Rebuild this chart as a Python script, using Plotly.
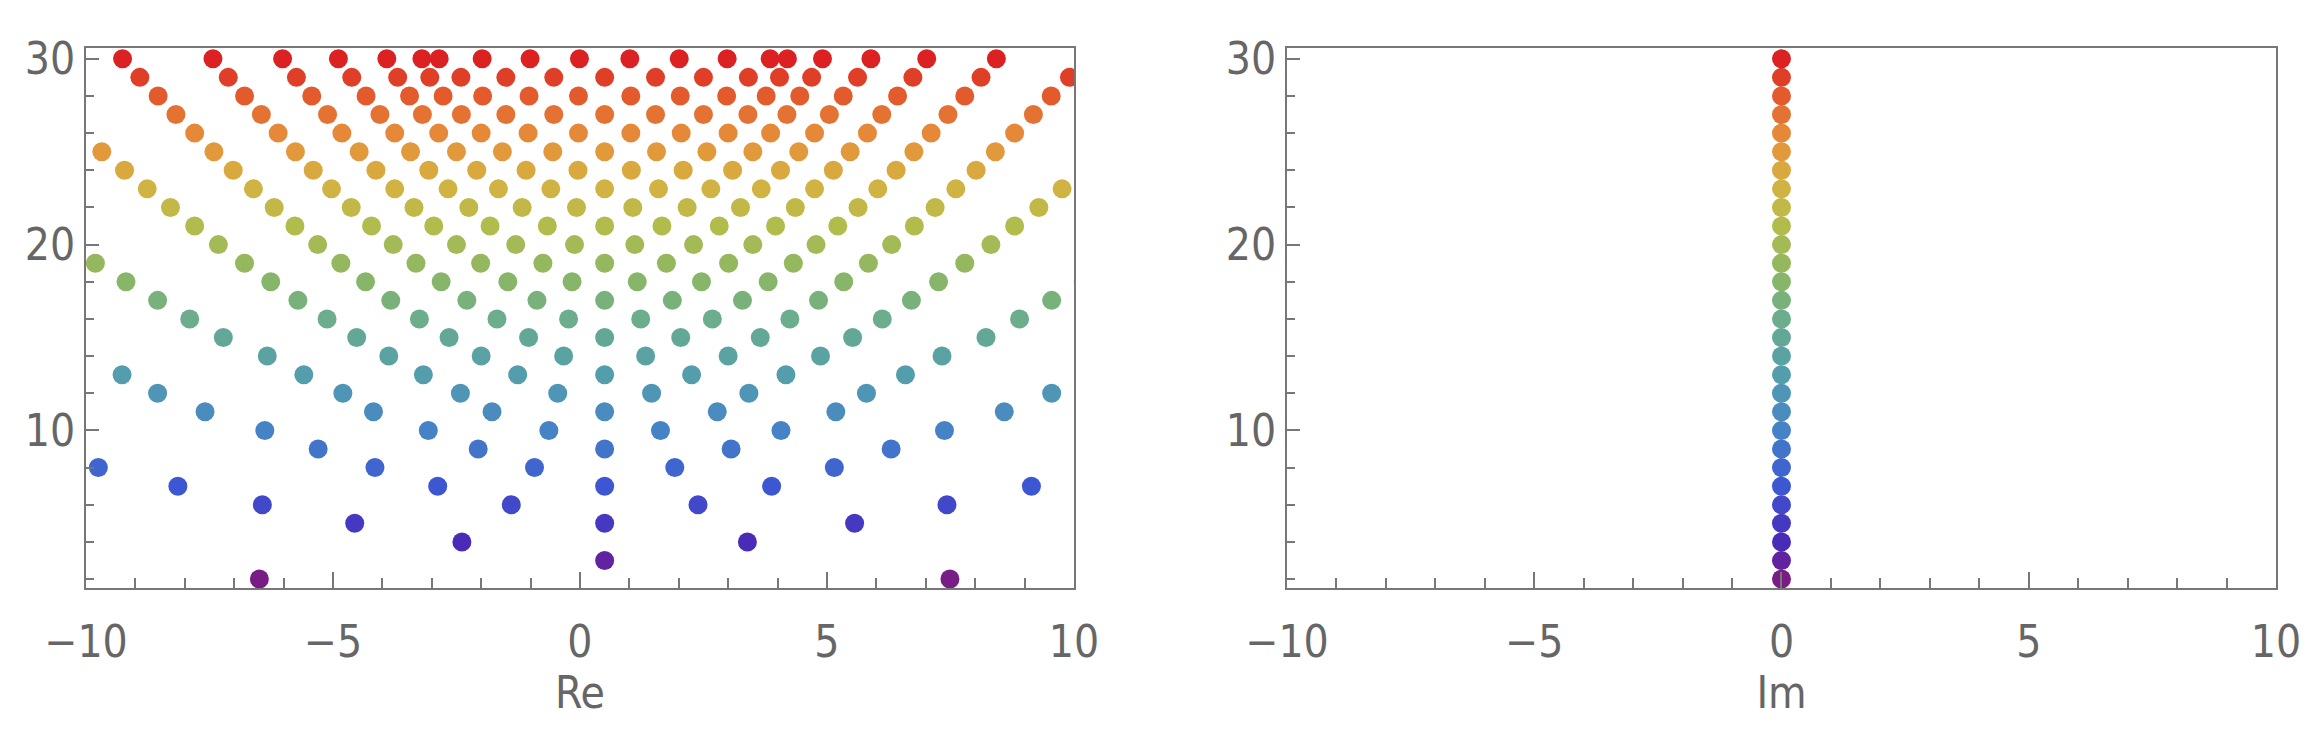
import plotly.graph_objects as go
from plotly.subplots import make_subplots

# Real parts of points, one list per imaginary-level row (Im value = row number)
re_02 = [-6.49, 7.49]
re_03 = [0.5]
re_04 = [-2.39, 3.39]
re_05 = [-4.56, 0.5, 5.56]
re_06 = [-6.43, -1.39, 2.39, 7.43]
re_07 = [-8.14, -2.88, 0.5, 3.88, 9.14]
re_08 = [-9.75, -4.15, -0.92, 1.92, 5.15, 10.75]
re_09 = [-5.30, -2.06, 0.5, 3.06, 6.30]
re_10 = [-6.38, -3.07, -0.63, 1.63, 4.07, 7.38]
re_11 = [-7.59, -4.18, -1.78, 0.5, 2.78, 5.18, 8.59]
re_12 = [-8.55, -4.80, -2.42, -0.45, 1.45, 3.42, 5.80, 9.55]
re_13 = [-9.27, -5.59, -3.17, -1.26, 0.5, 2.26, 4.17, 6.59, 10.27]
re_14 = [-6.33, -3.87, -2.00, -0.33, 1.33, 3.00, 4.87, 7.33]
re_15 = [-7.22, -4.52, -2.65, -1.04, 0.5, 2.04, 3.65, 5.52, 8.22]
re_16 = [-7.90, -5.12, -3.25, -1.68, -0.23, 1.23, 2.68, 4.25, 6.12, 8.90]
re_17 = [-8.55, -5.71, -3.83, -2.29, -0.87, 0.5, 1.87, 3.29, 4.83, 6.71, 9.55]
re_18 = [-9.19, -6.26, -4.34, -2.81, -1.46, -0.16, 1.16, 2.46, 3.81, 5.34, 7.26, 10.19]
re_19 = [-9.81, -6.79, -4.84, -3.32, -2.01, -0.75, 0.5, 1.75, 3.01, 4.32, 5.84, 7.79, 10.81]
re_20 = [-7.32, -5.31, -3.78, -2.50, -1.30, -0.11, 1.11, 2.30, 3.50, 4.78, 6.31, 8.32]
re_21 = [-7.80, -5.77, -4.22, -2.96, -1.82, -0.66, 0.5, 1.66, 2.82, 3.96, 5.22, 6.77, 8.80]
re_22 = [-8.29, -6.19, -4.63, -3.36, -2.25, -1.17, -0.07, 1.07, 2.17, 3.25, 4.36, 5.63, 7.19, 9.29]
re_23 = [-8.76, -6.61, -5.03, -3.75, -2.67, -1.65, -0.59, 0.5, 1.59, 2.65, 3.67, 4.75, 6.03, 7.61, 9.76]
re_24 = [-9.22, -7.02, -5.40, -4.13, -3.06, -2.09, -1.09, -0.04, 1.04, 2.09, 3.09, 4.06, 5.13, 6.40, 8.02, 10.22]
re_25 = [-9.68, -7.41, -5.76, -4.47, -3.43, -2.50, -1.57, -0.55, 0.5, 1.55, 2.57, 3.50, 4.43, 5.47, 6.76, 8.41, 10.68]
re_26 = [-7.80, -6.11, -4.82, -3.75, -2.86, -2.00, -1.05, -0.03, 1.03, 2.05, 3.00, 3.86, 4.75, 5.82, 7.11, 8.80]
re_27 = [-8.18, -6.45, -5.11, -4.05, -3.19, -2.40, -1.50, -0.53, 0.5, 1.53, 2.50, 3.40, 4.19, 5.05, 6.11, 7.45, 9.18]
re_28 = [-8.54, -6.79, -5.43, -4.33, -3.45, -2.77, -1.97, -1.03, -0.03, 1.03, 2.03, 2.97, 3.77, 4.45, 5.33, 6.43, 7.79, 9.54]
re_29 = [-8.91, -7.12, -5.74, -4.62, -3.69, -3.04, -2.41, -1.50, -0.53, 0.5, 1.53, 2.50, 3.41, 4.04, 4.69, 5.62, 6.74, 8.12, 9.91]
re_30 = [-9.26, -7.43, -6.02, -4.89, -3.91, -3.20, -2.85, -1.98, -1.01, -0.01, 1.01, 2.01, 2.98, 3.85, 4.20, 4.91, 5.89, 7.02, 8.43, 10.26]

rows = [re_02, re_03, re_04, re_05, re_06, re_07, re_08, re_09, re_10, re_11,
        re_12, re_13, re_14, re_15, re_16, re_17, re_18, re_19, re_20, re_21,
        re_22, re_23, re_24, re_25, re_26, re_27, re_28, re_29, re_30]
levels = list(range(2, 31))

# right panel: imaginary parts plotted at 0
im_x = [0] * len(levels)
im_y = levels

x_tickvals = [-10, -5, 0, 5, 10]
x_ticktext = ["\u221210", "\u22125", "0", "5", "10"]
y_tickvals = [10, 20, 30]

rainbow = [
    [0.0, "#781c86"], [0.07, "#4a2ab8"], [0.18, "#3d57d2"], [0.29, "#4585c6"],
    [0.40, "#559fab"], [0.50, "#6bad8c"], [0.58, "#8ab766"], [0.68, "#b2bc4c"],
    [0.76, "#d4b240"], [0.84, "#e5923a"], [0.92, "#e4622e"], [1.0, "#db2121"],
]

xs, ys = [], []
for lv, r in zip(levels, rows):
    xs += r
    ys += [lv] * len(r)

fig = make_subplots(rows=1, cols=2)

mk = dict(size=19, colorscale=rainbow, cmin=2, cmax=30, line=dict(width=0))
fig.add_trace(go.Scatter(x=xs, y=ys, mode="markers", marker={**mk, "color": ys}, showlegend=False), 1, 1)
fig.add_trace(go.Scatter(x=im_x, y=im_y, mode="markers", marker={**mk, "color": im_y}, showlegend=False), 1, 2)

axfont = dict(family="DejaVu Sans Condensed, Liberation Sans Narrow, Roboto Condensed, Roboto", size=44, color="#666666")
for c in (1, 2):
    fig.update_xaxes(range=[-10, 10], tickvals=x_tickvals, ticktext=x_ticktext,
                     ticks="inside", ticklen=16, tickwidth=2, tickcolor="#777", ticklabelstandoff=14,
                     minor=dict(dtick=1, ticks="inside", ticklen=10, tickwidth=2, tickcolor="#777"),
                     showline=True, linecolor="#777", linewidth=2, mirror=True, showgrid=False, zeroline=False,
                     tickfont=axfont, title_font=axfont, row=1, col=c)
    fig.update_yaxes(range=[1.52, 30.58], tickvals=y_tickvals,
                     ticks="inside", ticklen=13, tickwidth=2, tickcolor="#777",
                     minor=dict(tickvals=list(range(2, 31, 2)), ticks="inside", ticklen=8, tickwidth=2, tickcolor="#777"),
                     showline=True, linecolor="#777", linewidth=2, mirror=True, showgrid=False, zeroline=False,
                     tickfont=axfont, row=1, col=c)
fig.update_layout(xaxis=dict(domain=[0, 0.4511], title=dict(text="Re", standoff=10)),
                  xaxis2=dict(domain=[0.5484, 1], title=dict(text="Im", standoff=10)),
                  width=2316, height=738, margin=dict(l=78, r=48, t=40, b=158),
                  plot_bgcolor="white", paper_bgcolor="white")
fig.write_html("out.html")
